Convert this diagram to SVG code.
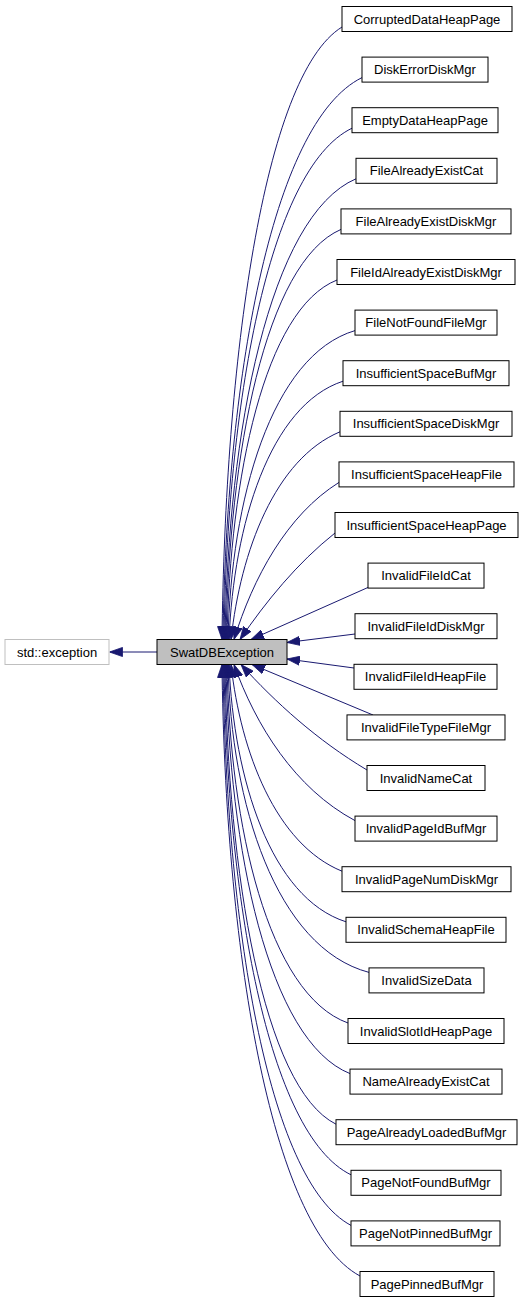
<svg xmlns="http://www.w3.org/2000/svg" width="524" height="1304" viewBox="0 0 524 1304">
<style>
.n rect{fill:#ffffff;stroke:#000000;stroke-width:1}
.g rect{fill:#ffffff;stroke:#bfbfbf;stroke-width:1}
.p rect{fill:#bfbfbf;stroke:#000000;stroke-width:1}
text{font-family:"Liberation Sans",Arial,Helvetica,sans-serif;font-size:13px;fill:#000000;text-anchor:middle}
.e path{fill:none;stroke:#191970;stroke-width:1;marker-end:url(#a)}
</style>
<defs>
<marker id="a" markerWidth="13" markerHeight="10" refX="13" refY="5" orient="auto" markerUnits="userSpaceOnUse" viewBox="0 0 13 10">
<path d="M0,0.4 L13,5 L0,9.6z" fill="#191970" stroke="#191970" stroke-width="0.8"/>
</marker>
</defs>
<rect width="524" height="1304" fill="#ffffff"/>
<g class="e" id="edges">
<path d="M157,652 L109.5,652"/>
<path d="M342,27 C262.8,76 225,363.9 222,639.5"/>
<path d="M362,77.6 C270.3,122.6 226,386.6 223,639.5"/>
<path d="M352,128.2 C267.5,169.1 227,409.4 224,639.5"/>
<path d="M356,178.8 C269.5,215.7 228,432.2 225,639.5"/>
<path d="M341,229.4 C265.1,262.2 229,455 226,639.5"/>
<path d="M337,280 C264.4,308.8 230,477.7 227,639.5"/>
<path d="M355,330.6 C271.2,355.3 231,500.5 228,639.5"/>
<path d="M343,381.2 C269.7,405.2 233.8,524.8 229,639.5"/>
<path d="M340,431.8 C275.2,458.9 240.7,550.9 231,639.5"/>
<path d="M339,482.4 C286.9,514.9 253,578 234,639.5"/>
<path d="M335,533 C297.1,563.1 266,601.5 240,639.5"/>
<path d="M369,587 L251,639.5"/>
<path d="M355,634 L287,642.5"/>
<path d="M354,668 L287,659"/>
<path d="M373,715 L252,664.5"/>
<path d="M367,770 C316.8,740.1 275.2,702.2 241,664.5"/>
<path d="M355,820.6 C294.9,788.4 255.7,725.6 234,664.5"/>
<path d="M342,871.2 C276,844.3 240.8,752.7 231,664.5"/>
<path d="M346,921.8 C270.7,897.9 233.8,778.8 229,664.5"/>
<path d="M369,972.4 C275.9,947.8 231,803.1 228,664.5"/>
<path d="M348,1023 C268.1,994.3 230,825.8 227,664.5"/>
<path d="M350,1073.6 C268.2,1040.9 229,848.6 226,664.5"/>
<path d="M336,1124.2 C262.7,1087.4 228,871.4 225,664.5"/>
<path d="M351,1174.8 C267.2,1134 227,894.1 224,664.5"/>
<path d="M351,1225.4 C266.5,1180.5 226,916.9 223,664.5"/>
<path d="M360,1276 C268.9,1227.1 225,939.7 222,664.5"/>
</g>
<g class="g" id="std_exception"><rect x="5" y="639.5" width="104" height="25"/><text x="57" y="656.5">std::exception</text></g>
<g class="p" id="SwatDBException"><rect x="157" y="639.5" width="130" height="25"/><text x="222" y="656.5">SwatDBException</text></g>
<g class="n" id="CorruptedDataHeapPage"><rect x="342" y="6.5" width="170" height="25"/><text x="427" y="23.5">CorruptedDataHeapPage</text></g>
<g class="n" id="DiskErrorDiskMgr"><rect x="362" y="57.1" width="126" height="25"/><text x="425" y="74.1">DiskErrorDiskMgr</text></g>
<g class="n" id="EmptyDataHeapPage"><rect x="352" y="107.7" width="146" height="25"/><text x="425" y="124.7">EmptyDataHeapPage</text></g>
<g class="n" id="FileAlreadyExistCat"><rect x="356" y="158.3" width="141" height="25"/><text x="426.5" y="175.3">FileAlreadyExistCat</text></g>
<g class="n" id="FileAlreadyExistDiskMgr"><rect x="341" y="208.9" width="170" height="25"/><text x="426" y="225.9">FileAlreadyExistDiskMgr</text></g>
<g class="n" id="FileIdAlreadyExistDiskMgr"><rect x="337" y="259.5" width="178" height="25"/><text x="426" y="276.5">FileIdAlreadyExistDiskMgr</text></g>
<g class="n" id="FileNotFoundFileMgr"><rect x="355" y="310.1" width="142" height="25"/><text x="426" y="327.1">FileNotFoundFileMgr</text></g>
<g class="n" id="InsufficientSpaceBufMgr"><rect x="343" y="360.7" width="166" height="25"/><text x="426" y="377.7">InsufficientSpaceBufMgr</text></g>
<g class="n" id="InsufficientSpaceDiskMgr"><rect x="340" y="411.3" width="172" height="25"/><text x="426" y="428.3">InsufficientSpaceDiskMgr</text></g>
<g class="n" id="InsufficientSpaceHeapFile"><rect x="339" y="461.9" width="175" height="25"/><text x="426.5" y="478.9">InsufficientSpaceHeapFile</text></g>
<g class="n" id="InsufficientSpaceHeapPage"><rect x="335" y="512.5" width="183" height="25"/><text x="426.5" y="529.5">InsufficientSpaceHeapPage</text></g>
<g class="n" id="InvalidFileIdCat"><rect x="368" y="563.1" width="116" height="25"/><text x="426" y="580.1">InvalidFileIdCat</text></g>
<g class="n" id="InvalidFileIdDiskMgr"><rect x="355" y="613.7" width="142" height="25"/><text x="426" y="630.7">InvalidFileIdDiskMgr</text></g>
<g class="n" id="InvalidFileIdHeapFile"><rect x="354" y="664.3" width="143" height="25"/><text x="425.5" y="681.3">InvalidFileIdHeapFile</text></g>
<g class="n" id="InvalidFileTypeFileMgr"><rect x="347" y="714.9" width="158" height="25"/><text x="426" y="731.9">InvalidFileTypeFileMgr</text></g>
<g class="n" id="InvalidNameCat"><rect x="367" y="765.5" width="118" height="25"/><text x="426" y="782.5">InvalidNameCat</text></g>
<g class="n" id="InvalidPageIdBufMgr"><rect x="355" y="816.1" width="142" height="25"/><text x="426" y="833.1">InvalidPageIdBufMgr</text></g>
<g class="n" id="InvalidPageNumDiskMgr"><rect x="342" y="866.7" width="169" height="25"/><text x="426.5" y="883.7">InvalidPageNumDiskMgr</text></g>
<g class="n" id="InvalidSchemaHeapFile"><rect x="346" y="917.3" width="160" height="25"/><text x="426" y="934.3">InvalidSchemaHeapFile</text></g>
<g class="n" id="InvalidSizeData"><rect x="369" y="967.9" width="115" height="25"/><text x="426.5" y="984.9">InvalidSizeData</text></g>
<g class="n" id="InvalidSlotIdHeapPage"><rect x="348" y="1018.5" width="156" height="25"/><text x="426" y="1035.5">InvalidSlotIdHeapPage</text></g>
<g class="n" id="NameAlreadyExistCat"><rect x="350" y="1069.1" width="152" height="25"/><text x="426" y="1086.1">NameAlreadyExistCat</text></g>
<g class="n" id="PageAlreadyLoadedBufMgr"><rect x="336" y="1119.7" width="181" height="25"/><text x="426.5" y="1136.7">PageAlreadyLoadedBufMgr</text></g>
<g class="n" id="PageNotFoundBufMgr"><rect x="351" y="1170.3" width="150" height="25"/><text x="426" y="1187.3">PageNotFoundBufMgr</text></g>
<g class="n" id="PageNotPinnedBufMgr"><rect x="351" y="1220.9" width="149" height="25"/><text x="425.5" y="1237.9">PageNotPinnedBufMgr</text></g>
<g class="n" id="PagePinnedBufMgr"><rect x="360" y="1271.5" width="134" height="25"/><text x="427" y="1288.5">PagePinnedBufMgr</text></g>
</svg>
